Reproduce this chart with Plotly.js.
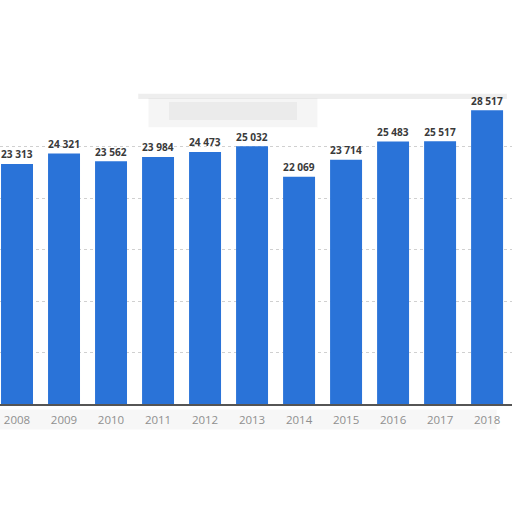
<!DOCTYPE html>
<html>
<head>
<meta charset="utf-8">
<script src="https://cdn.plot.ly/plotly-3.0.1.min.js"></script>
<style>
  html, body { margin: 0; padding: 0; background: #fff; }
  #chart { width: 512px; height: 512px; }
</style>
</head>
<body>
<div id="chart"></div>
<script>
const years = ["2008", "2009", "2010", "2011", "2012", "2013", "2014", "2015", "2016", "2017", "2018"];
const values = [23313, 24321, 23562, 23984, 24473, 25032, 22069, 23714, 25483, 25517, 28517];
const gridTicks = [5000, 10000, 15000, 20000, 25000];

const trace = {
  type: "bar",
  x: years,
  y: values,
  width: 0.68,
  marker: { color: "#2a73d8" },
  texttemplate: "%{y:,}",
  textposition: "outside",
  cliponaxis: false,
  textfont: { family: "Open Sans, sans-serif", size: 11.5, color: "#3a3a3a", weight: 700 },
  hoverinfo: "none"
};

// soft grey smudges like the ones in the source image
const smudge = (x0, x1, y0, y1, op) => ({
  type: "rect", xref: "paper", yref: "paper", x0, x1, y0, y1,
  fillcolor: "#777", opacity: op, line: { width: 0 }, layer: "below"
});

const layout = {
  width: 512,
  height: 512,
  margin: { l: 0, r: 0, t: 40, b: 108 },
  paper_bgcolor: "#fff",
  plot_bgcolor: "#fff",
  separators: ". ",
  showlegend: false,
  xaxis: {
    type: "category",
    range: [-0.362, 10.53],
    showline: true,
    linecolor: "#555",
    linewidth: 1.5,
    ticks: "",
    ticklabelstandoff: 5,
    tickfont: { family: "Open Sans, sans-serif", size: 11.5, color: "#8f8f8f" },
    fixedrange: true
  },
  yaxis: {
    range: [0, 35340],
    tickvals: gridTicks,
    showticklabels: false,
    showgrid: true,
    gridcolor: "#d0d0d0",
    griddash: "dot",
    zeroline: false,
    fixedrange: true
  },
  shapes: [
    smudge(0.27, 0.99, 0.838, 0.852, 0.12),
    smudge(0.29, 0.62, 0.76, 0.84, 0.07),
    smudge(0.33, 0.58, 0.78, 0.83, 0.07),
    smudge(0.0, 0.97, -0.07, -0.015, 0.06)
  ]
};

Plotly.newPlot("chart", [trace], layout, { displayModeBar: false, staticPlot: true });
</script>
</body>
</html>
